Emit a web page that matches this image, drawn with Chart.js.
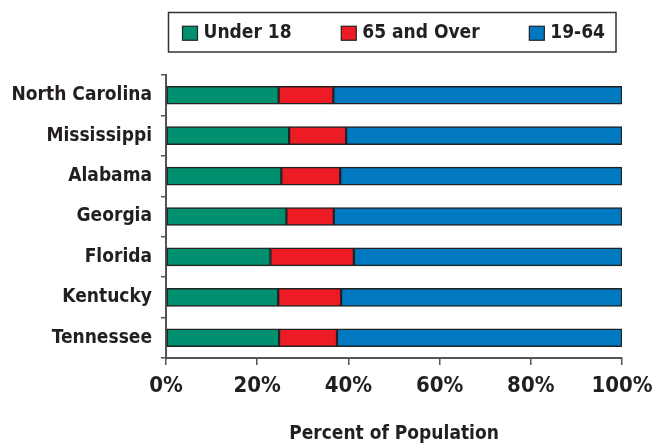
<!DOCTYPE html>
<html>
<head>
<meta charset="utf-8">
<script src="https://cdn.jsdelivr.net/npm/chart.js@4.4.0/dist/chart.umd.min.js"></script>
<style>
  html, body { margin: 0; padding: 0; background: #fff; }
</style>
</head>
<body>
<canvas id="chart" width="667" height="448"></canvas>
<script>
const states = ["North Carolina", "Mississippi", "Alabama", "Georgia", "Florida", "Kentucky", "Tennessee"];
const under18 = [24.7, 27.0, 25.3, 26.4, 22.9, 24.6, 24.8];
const over65 = [12.0, 12.5, 12.9, 10.4, 18.3, 13.8, 12.7];
const age19to64 = [63.3, 60.5, 61.8, 63.2, 58.8, 61.6, 62.5];
const seriesNames = ["Under 18", "65 and Over", "19-64"];
const xTickValues = [0, 20, 40, 60, 80, 100];

const fontFamily = '"Liberation Sans Narrow", "DejaVu Sans Condensed", "Arial Narrow", sans-serif';
const textColor = "#231f20";
const axisColor = "#555";

// legend drawn by hand so it can sit in a box like the original
const boxedLegend = {
    id: "boxedLegend",
    afterDraw(chart) {
        const ctx = chart.ctx;
        const left = 168.5, top = 12.5, right = 616, bottom = 52;
        ctx.save();
        ctx.lineWidth = 1.5;
        ctx.strokeStyle = "#333";
        ctx.strokeRect(left, top, right - left, bottom - top);
        ctx.font = "bold 19px " + fontFamily;
        const items = chart.data.datasets.map((ds) => ({
            label: ds.label,
            color: ds.backgroundColor,
            w: 15 + 6 + ctx.measureText(ds.label).width,
        }));
        const total = items.reduce((s, it) => s + it.w, 0);
        const startX = left + 14, endX = right - 11;
        const gap = (endX - startX - total) / (items.length - 1);
        const cy = (top + bottom) / 2 + 1;
        let x = startX;
        items.forEach((it) => {
            ctx.fillStyle = it.color;
            ctx.fillRect(x, cy - 7, 15, 14);
            ctx.lineWidth = 1.2;
            ctx.strokeStyle = "#222";
            ctx.strokeRect(x, cy - 7, 15, 14);
            ctx.fillStyle = textColor;
            ctx.textBaseline = "middle";
            ctx.fillText(it.label, x + 21, cy);
            x += it.w + gap;
        });
        ctx.restore();
    },
};

const barStyle = { borderColor: "#222", borderWidth: 1.5, borderSkipped: false, barThickness: 18 };

new Chart(document.getElementById("chart"), {
    type: "bar",
    data: {
        labels: states,
        datasets: [
            { label: seriesNames[0], data: under18, backgroundColor: "#00906f", ...barStyle },
            { label: seriesNames[1], data: over65, backgroundColor: "#ed1c24", ...barStyle },
            { label: seriesNames[2], data: age19to64, backgroundColor: "#0079c1", ...barStyle },
        ],
    },
    options: {
        indexAxis: "y",
        responsive: false,
        animation: false,
        layout: { padding: { top: 75, right: 45, bottom: 0, left: 0 } },
        plugins: {
            legend: { display: false },
            tooltip: { enabled: false },
        },
        scales: {
            x: {
                stacked: true,
                min: 0,
                max: 100,
                afterFit: (scale) => { scale.height = 90; },
                afterBuildTicks: (scale) => { scale.ticks = xTickValues.map((v) => ({ value: v })); },
                ticks: {
                    callback: (v) => v + "%",
                    font: { family: fontFamily, size: 22, weight: "bold" },
                    color: textColor,
                    padding: 8,
                    maxRotation: 0,
                },
                grid: { drawOnChartArea: false, tickLength: 7, color: axisColor, lineWidth: 1.5 },
                border: { color: axisColor, width: 2 },
                title: {
                    display: true,
                    text: "Percent of Population",
                    font: { family: fontFamily, size: 19, weight: "bold" },
                    color: textColor,
                    padding: { top: 0, bottom: 3 },
                },
            },
            y: {
                stacked: true,
                afterFit: (scale) => { scale.width = 166; },
                ticks: {
                    font: { family: fontFamily, size: 19, weight: "bold" },
                    color: textColor,
                    padding: 9,
                },
                grid: { offset: true, drawOnChartArea: false, tickLength: 5, color: axisColor, lineWidth: 1.5 },
                border: { color: axisColor, width: 2 },
            },
        },
    },
    plugins: [boxedLegend],
});
</script>
</body>
</html>
